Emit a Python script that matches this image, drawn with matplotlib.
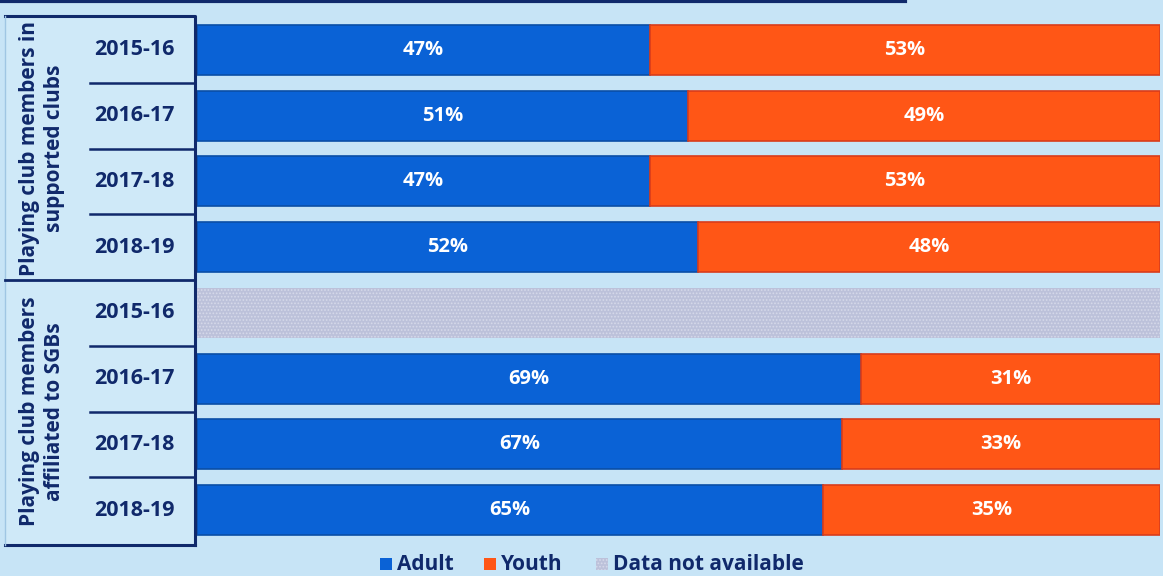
import matplotlib
matplotlib.use("Agg")
import matplotlib.pyplot as plt
from matplotlib.patches import Rectangle
import numpy as np

# Data
groups = ["Playing club members in\nsupported clubs",
          "Playing club members\naffiliated to SGBs"]
years = ["2015-16", "2016-17", "2017-18", "2018-19",
         "2015-16", "2016-17", "2017-18", "2018-19"]
adult = [47, 51, 47, 52, None, 69, 67, 65]
youth = [53, 49, 53, 48, None, 31, 33, 35]
legend_labels = ["Adult", "Youth", "Data not available"]

BG = "#c7e4f6"
PANEL = "#cfe9f8"
NAVY = "#10296b"
BLUE = "#0a62d6"
BLUE_EDGE = "#0a4ea6"
ORANGE = "#ff5616"
ORANGE_EDGE = "#d93c1c"
GREY = "#bcc1da"

plt.rcParams['font.family'] = ['Open Sans', 'DejaVu Sans']
plt.rcParams['hatch.linewidth'] = 0.8

W, H = 1163, 576
fig = plt.figure(figsize=(W / 100, H / 100), dpi=100, facecolor=BG)

# overlay axes in pixel coordinates for the decorations
deco = fig.add_axes([0, 0, 1, 1])
deco.set_xlim(0, W)
deco.set_ylim(H, 0)
deco.axis("off")
deco.patch.set_alpha(0)

top, bottom = 17, 543
n = len(years)
pitch = (bottom - top) / n

# bar area
ax = fig.add_axes([197 / W, 1 - bottom / H, (1160 - 197) / W, (bottom - top) / H])
ax.set_xlim(0, 100)
ax.set_ylim(n, 0)
ax.axis("off")
ax.patch.set_alpha(0)

ypos = np.arange(n) + 0.5
bh = 0.76
for i in range(n):
    if adult[i] is None:
        ax.barh(ypos[i], 100, height=bh, color=GREY, edgecolor="#d6d9ea",
                hatch=".....", linewidth=0)
        continue
    ax.barh(ypos[i], adult[i], height=bh, color=BLUE, edgecolor=BLUE_EDGE, linewidth=1.2)
    ax.barh(ypos[i], youth[i], left=adult[i], height=bh, color=ORANGE,
            edgecolor=ORANGE_EDGE, linewidth=1.2)
    ax.text(adult[i] / 2, ypos[i], f"{adult[i]}%", color="white", ha="center",
            va="center", fontsize=14.5, fontweight="bold")
    ax.text(adult[i] + youth[i] / 2, ypos[i], f"{youth[i]}%", color="white",
            ha="center", va="center", fontsize=14.5, fontweight="bold")

# left panel with category labels
deco.add_patch(Rectangle((5, 15), 190, 530, facecolor=PANEL, edgecolor="none", zorder=1))
deco.plot([5, 195, 195], [16, 16, 545], color=NAVY, lw=2.2, zorder=3)
deco.plot([5, 195], [545, 545], color=NAVY, lw=2.2, zorder=3)
deco.plot([5, 5], [16, 545], color="#9fc6e3", lw=1.0, zorder=3)
mid = top + pitch * 4
deco.plot([5, 195], [mid, mid], color=NAVY, lw=2.0, zorder=3)
for k in [1, 2, 3, 5, 6, 7]:
    yy = top + pitch * k
    deco.plot([90, 195], [yy, yy], color=NAVY, lw=1.8, zorder=3)

for i, yr in enumerate(years):
    deco.text(134, top + pitch * (i + 0.5), yr, color=NAVY, ha="center",
              va="center", fontsize=15.5, fontweight="bold", zorder=4)

for g, lab in enumerate(groups):
    yc = top + pitch * (4 * g + 2)
    deco.text(42, yc, lab, color=NAVY, ha="center", va="center", rotation=90,
              fontsize=15, fontweight="bold", linespacing=1.25, zorder=4)

# partial frame at the top edge
deco.plot([0, 905], [1, 1], color=NAVY, lw=3, zorder=3)

# legend
ly = 564
items = [(380, BLUE, None, legend_labels[0]),
         (484, ORANGE, None, legend_labels[1]),
         (596, GREY, ".....", legend_labels[2])]
for x0, col, hatch, lab in items:
    deco.add_patch(Rectangle((x0, ly - 6), 12, 12, facecolor=col,
                             edgecolor="#d6d9ea" if hatch else "none",
                             hatch=hatch, linewidth=0, zorder=3))
    deco.text(x0 + 17, ly, lab, color=NAVY, ha="left", va="center",
              fontsize=15, fontweight="bold", zorder=4)

fig.savefig("out.png", dpi=100, facecolor=BG)
